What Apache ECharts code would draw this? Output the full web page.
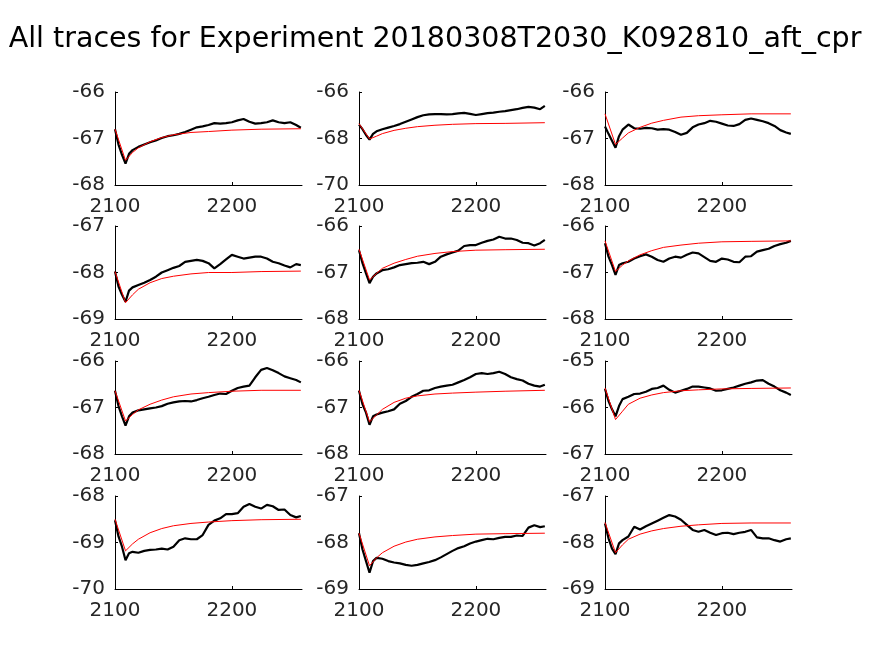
<!DOCTYPE html>
<html>
<head>
<meta charset="utf-8">
<script src="https://cdn.jsdelivr.net/npm/echarts@6/dist/echarts.min.js"></script>
<style>html,body{margin:0;padding:0;background:#fff}#c{width:874px;height:656px}</style>
</head>
<body>
<div id="c"></div>
<script>
const titleText = 'All traces for Experiment 20180308T2030_K092810_aft_cpr';
const traceX = [2100,2103,2106,2109,2112,2115,2120,2125,2130,2135,2140,2145,2150,2155,2160,2165,2170,2175,2180,2185,2190,2195,2200,2205,2210,2215,2220,2225,2230,2235,2240,2245,2250,2255,2259];
const fitX = [2100,2109,2115,2120,2130,2140,2150,2165,2180,2200,2225,2259];
const xTicks = [2100, 2200];

const trace1 = [-66.80,-67.13,-67.35,-67.54,-67.33,-67.25,-67.18,-67.13,-67.08,-67.04,-66.99,-66.95,-66.93,-66.90,-66.86,-66.81,-66.76,-66.74,-66.71,-66.67,-66.68,-66.67,-66.65,-66.61,-66.58,-66.64,-66.68,-66.67,-66.65,-66.61,-66.65,-66.67,-66.65,-66.71,-66.77];
const fit1 = [-66.80,-67.47,-67.30,-67.20,-67.07,-66.98,-66.92,-66.87,-66.85,-66.82,-66.80,-66.79];
const trace2 = [-67.40,-67.60,-67.85,-68.05,-67.80,-67.69,-67.60,-67.53,-67.46,-67.38,-67.28,-67.18,-67.08,-67.00,-66.96,-66.95,-66.95,-66.96,-66.95,-66.92,-66.90,-66.94,-66.99,-66.95,-66.91,-66.89,-66.85,-66.82,-66.78,-66.74,-66.68,-66.64,-66.67,-66.74,-66.60];
const fit2 = [-67.36,-68.02,-67.90,-67.79,-67.65,-67.56,-67.49,-67.43,-67.39,-67.36,-67.35,-67.32];
const trace3 = [-66.74,-66.90,-67.05,-67.20,-66.95,-66.81,-66.70,-66.78,-66.79,-66.77,-66.78,-66.81,-66.80,-66.81,-66.86,-66.92,-66.88,-66.76,-66.70,-66.67,-66.62,-66.64,-66.68,-66.72,-66.73,-66.69,-66.60,-66.57,-66.60,-66.63,-66.67,-66.73,-66.82,-66.87,-66.90];
const fit3 = [-66.47,-67.13,-66.99,-66.88,-66.76,-66.67,-66.61,-66.54,-66.51,-66.49,-66.47,-66.47];
const trace4 = [-67.98,-68.30,-68.48,-68.63,-68.39,-68.32,-68.27,-68.22,-68.16,-68.09,-68.00,-67.95,-67.90,-67.86,-67.77,-67.75,-67.73,-67.75,-67.80,-67.91,-67.82,-67.72,-67.62,-67.66,-67.70,-67.68,-67.66,-67.66,-67.70,-67.77,-67.80,-67.85,-67.89,-67.82,-67.84];
const fit4 = [-67.98,-68.65,-68.48,-68.36,-68.22,-68.13,-68.08,-68.03,-68.00,-68.00,-67.98,-67.97];
const trace5 = [-66.52,-66.80,-67.02,-67.23,-67.09,-67.02,-66.95,-66.93,-66.89,-66.84,-66.82,-66.80,-66.79,-66.77,-66.82,-66.77,-66.66,-66.61,-66.57,-66.53,-66.43,-66.41,-66.41,-66.36,-66.32,-66.29,-66.23,-66.27,-66.27,-66.30,-66.36,-66.37,-66.42,-66.37,-66.30];
const fit5 = [-66.50,-67.16,-67.02,-66.91,-66.80,-66.72,-66.65,-66.59,-66.55,-66.52,-66.51,-66.50];
const trace6 = [-66.37,-66.66,-66.84,-67.05,-66.84,-66.80,-66.77,-66.70,-66.65,-66.61,-66.66,-66.73,-66.77,-66.70,-66.66,-66.68,-66.62,-66.57,-66.59,-66.67,-66.75,-66.77,-66.70,-66.72,-66.77,-66.78,-66.66,-66.65,-66.55,-66.52,-66.49,-66.43,-66.39,-66.36,-66.32];
const fit6 = [-66.32,-66.98,-66.84,-66.75,-66.62,-66.53,-66.46,-66.41,-66.37,-66.34,-66.33,-66.32];
const trace7 = [-66.64,-66.97,-67.19,-67.39,-67.19,-67.11,-67.06,-67.04,-67.02,-67.00,-66.97,-66.92,-66.89,-66.87,-66.86,-66.87,-66.84,-66.80,-66.77,-66.73,-66.70,-66.71,-66.64,-66.58,-66.55,-66.53,-66.35,-66.19,-66.15,-66.20,-66.26,-66.33,-66.37,-66.41,-66.46];
const fit7 = [-66.64,-67.29,-67.15,-67.05,-66.93,-66.84,-66.77,-66.71,-66.68,-66.65,-66.63,-66.63];
const trace8 = [-66.64,-66.93,-67.11,-67.37,-67.19,-67.15,-67.11,-67.08,-67.04,-66.92,-66.86,-66.77,-66.71,-66.64,-66.63,-66.58,-66.55,-66.53,-66.51,-66.46,-66.41,-66.35,-66.28,-66.26,-66.28,-66.26,-66.23,-66.28,-66.35,-66.39,-66.42,-66.49,-66.53,-66.55,-66.51];
const fit8 = [-66.63,-67.31,-67.16,-67.04,-66.89,-66.80,-66.75,-66.71,-66.69,-66.67,-66.65,-66.63];
const trace9 = [-65.60,-65.86,-66.04,-66.19,-65.97,-65.82,-65.77,-65.71,-65.70,-65.66,-65.60,-65.58,-65.53,-65.62,-65.68,-65.64,-65.60,-65.55,-65.55,-65.57,-65.59,-65.64,-65.63,-65.60,-65.57,-65.53,-65.49,-65.46,-65.42,-65.41,-65.49,-65.55,-65.63,-65.68,-65.73];
const fit9 = [-65.58,-66.26,-66.08,-65.93,-65.80,-65.73,-65.68,-65.64,-65.62,-65.60,-65.59,-65.58];
const trace10 = [-68.52,-68.87,-69.09,-69.38,-69.23,-69.20,-69.22,-69.18,-69.16,-69.15,-69.13,-69.15,-69.09,-68.95,-68.91,-68.93,-68.93,-68.84,-68.62,-68.53,-68.48,-68.39,-68.39,-68.37,-68.23,-68.17,-68.23,-68.27,-68.19,-68.22,-68.30,-68.29,-68.41,-68.46,-68.43];
const fit10 = [-68.50,-69.18,-69.03,-68.93,-68.79,-68.70,-68.64,-68.59,-68.56,-68.53,-68.51,-68.50];
const trace11 = [-67.80,-68.15,-68.40,-68.65,-68.40,-68.33,-68.35,-68.40,-68.43,-68.45,-68.48,-68.50,-68.48,-68.45,-68.42,-68.38,-68.32,-68.25,-68.18,-68.12,-68.08,-68.02,-67.98,-67.95,-67.92,-67.93,-67.90,-67.88,-67.88,-67.85,-67.86,-67.68,-67.63,-67.67,-67.65];
const fit11 = [-67.80,-68.50,-68.33,-68.22,-68.08,-67.99,-67.93,-67.88,-67.85,-67.82,-67.81,-67.80];
const trace12 = [-67.59,-67.91,-68.13,-68.25,-68.02,-67.95,-67.87,-67.66,-67.72,-67.65,-67.59,-67.53,-67.47,-67.41,-67.44,-67.51,-67.62,-67.73,-67.77,-67.73,-67.79,-67.84,-67.80,-67.79,-67.82,-67.79,-67.77,-67.73,-67.89,-67.91,-67.91,-67.95,-67.98,-67.93,-67.91];
const fit12 = [-67.57,-68.22,-68.05,-67.93,-67.82,-67.75,-67.70,-67.65,-67.62,-67.59,-67.58,-67.58];

const yTicks1 = [-68,-67,-66];
const yTicks2 = [-70,-68,-66];
const yTicks3 = [-68,-67,-66];
const yTicks4 = [-69,-68,-67];
const yTicks5 = [-68,-67,-66];
const yTicks6 = [-68,-67,-66];
const yTicks7 = [-68,-67,-66];
const yTicks8 = [-68,-67,-66];
const yTicks9 = [-67,-66,-65];
const yTicks10 = [-70,-69,-68];
const yTicks11 = [-69,-68,-67];
const yTicks12 = [-69,-68,-67];

const traces = [trace1,trace2,trace3,trace4,trace5,trace6,trace7,trace8,trace9,trace10,trace11,trace12];
const fits = [fit1,fit2,fit3,fit4,fit5,fit6,fit7,fit8,fit9,fit10,fit11,fit12];
const yTicks = [yTicks1,yTicks2,yTicks3,yTicks4,yTicks5,yTicks6,yTicks7,yTicks8,yTicks9,yTicks10,yTicks11,yTicks12];

const colLeft = [115, 359, 605];
const rowTop = [92, 226, 361, 496];
const W = 187, H = 93;
const FONT = 'DejaVu Sans';
const labelColor = '#262626';

const grids = [], xAxes = [], yAxes = [], series = [];
for (let i = 0; i < 12; i++) {
  const r = Math.floor(i / 3), c = i % 3;
  grids.push({left: colLeft[c], top: rowTop[r], width: W, height: H, containLabel: false});
  xAxes.push({
    type: 'value', gridIndex: i, min: 2100, max: 2260,
    axisLine: {show: true, lineStyle: {color: '#000', width: 1}},
    axisTick: {show: true, inside: true, length: 3, lineStyle: {color: '#000'}, customValues: xTicks},
    axisLabel: {show: true, color: labelColor, fontFamily: FONT, fontSize: 20, margin: 12, customValues: xTicks,
      formatter: v => String(v)},
    splitLine: {show: false}
  });
  const yt = yTicks[i];
  yAxes.push({
    type: 'value', gridIndex: i, min: yt[0], max: yt[2], interval: yt[1] - yt[0],
    axisLine: {show: true, lineStyle: {color: '#000', width: 1}},
    axisTick: {show: true, inside: true, length: 3, lineStyle: {color: '#000'}},
    axisLabel: {show: true, color: labelColor, fontFamily: FONT, fontSize: 20, margin: 10, formatter: v => String(v)},
    splitLine: {show: false}
  });
  series.push({
    type: 'line', xAxisIndex: i, yAxisIndex: i, showSymbol: false, symbol: 'none',
    data: traceX.map((x, k) => [x, traces[i][k]]),
    lineStyle: {color: '#000', width: 2.2}, itemStyle: {color: '#000'}, z: 2
  });
  series.push({
    type: 'line', xAxisIndex: i, yAxisIndex: i, showSymbol: false, symbol: 'none',
    data: fitX.map((x, k) => [x, fits[i][k]]),
    lineStyle: {color: '#ff0000', width: 1}, itemStyle: {color: '#ff0000'}, z: 3
  });
}

const chart = echarts.init(document.getElementById('c'), null, {renderer: 'canvas'});
chart.setOption({
  animation: false,
  backgroundColor: '#ffffff',
  title: {text: titleText, left: 430, top: 20, textAlign: 'center',
    textStyle: {fontFamily: FONT, fontSize: 28.5, fontWeight: 'normal', color: '#000'}},
  grid: grids, xAxis: xAxes, yAxis: yAxes, series: series
});
</script>
</body>
</html>
